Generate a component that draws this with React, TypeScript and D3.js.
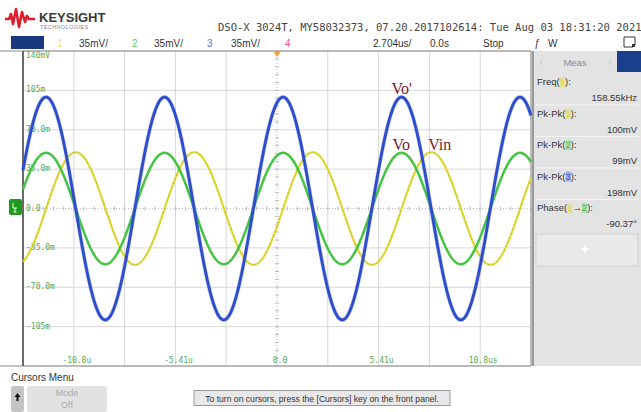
import React from 'react';
import * as d3 from 'd3';

const W = 641;
const H = 412;

// Channel readouts from the measurement panel
const channelIds = ['1', '2', '3'];
const channelColors = ['#e0da32', '#44c441', '#2e4dcb'];
const pkPkMv = [100, 99, 198];
const freqKHz = 158.55;
const phaseDeg = -90.37; // phase ch1 -> ch2
const crestTimeUs = 0.32; // a crest of ch2 / ch3

// Display settings
const timePerDivUs = 2.704;
const voltPerDivMv = 35;
const voltLabels = ['140mV', '105m', '70.0m', '35.0m', '0.0', '-35.0m', '-70.0m', '-105m'];
const timeLabelDivs = [-4, -2, 0, 2, 4];
const timeLabels = ['-10.8u', '-5.41u', '0.0', '5.41u', '10.8us'];

const measNames = ['Freq', 'Pk-Pk', 'Pk-Pk', 'Pk-Pk'];
const measNameEm = [2.389, 3.0, 3.0, 3.0]; // advance widths of "Name(" in em
const measChannels = [0, 0, 1, 2];
const measValues = [`${freqKHz.toFixed(2)}kHz`, `${pkPkMv[0]}mV`, `${pkPkMv[1]}mV`, `${pkPkMv[2]}mV`];

const traceLabels = ["Vo'", 'Vo', 'Vin'];

const UI = 'Liberation Sans, Arial, sans-serif';
const MONO = 'DejaVu Sans Mono, monospace';
const MEAS_FS = 9.5;

export default function App() {
  const plot = { l: 23, r: 531, t: 51, b: 366 };
  const x = d3.scaleLinear().domain([-5 * timePerDivUs, 5 * timePerDivUs]).range([plot.l, plot.r]);
  const y = d3.scaleLinear().domain([-4 * voltPerDivMv, 4 * voltPerDivMv]).range([plot.b, plot.t]);

  const periodUs = 1000 / freqKHz;
  const crestTimes = [crestTimeUs - (phaseDeg / 360) * periodUs, crestTimeUs, crestTimeUs];
  const times = d3.range(plot.l, plot.r + 0.01, 0.5).map((px) => x.invert(px));
  const traces = channelIds.map((_, i) =>
    times.map((t) => [t, (pkPkMv[i] / 2) * Math.cos((2 * Math.PI * (t - crestTimes[i])) / periodUs)] as [number, number])
  );
  const line = d3.line<[number, number]>().x((d) => x(d[0])).y((d) => y(d[1]));

  const xDivs = d3.range(-5, 6);
  const yDivs = d3.range(-4, 5);
  const cx = x(0);
  const cy = y(0);
  const minorX = d3.range(-25, 26).map((k) => x((k * timePerDivUs) / 5));
  const minorY = d3.range(-20, 21).map((k) => y((k * voltPerDivMv) / 5));

  const ch3Crest = crestTimes[2] + periodUs;
  const ch1Crest = crestTimes[0] + periodUs;

  // channel digit drawn as a small coloured chip inside the measurement name
  const chip = (key: string, ci: number, left: number, base: number) => {
    const w = MEAS_FS * 0.556;
    return (
      <g key={key}>
        <rect x={left} y={base - 8} width={w} height={10} fill={channelColors[ci]} opacity={0.35} />
        <text x={left + w / 2} y={base} textAnchor="middle" fill={channelColors[ci]}>{channelIds[ci]}</text>
      </g>
    );
  };

  return (
    <svg width={W} height={H} style={{ position: 'absolute', left: 0, top: 0, display: 'block', background: '#fff' }}>
      {/* Logo */}
      <path d="M5,19 L9,19 L11,14 L13,24 L16,9 L19,27 L22,12 L25,22 L27,16 L29,19 L35,19" fill="none" stroke="#e01e2a" strokeWidth={2.6} strokeLinejoin="round" />
      <text x={39} y={22} fontFamily={UI} fontWeight="bold" fontSize={13} fill="#3a3a3a">KEYSIGHT</text>
      <text x={40} y={29} fontFamily={UI} fontSize={5.5} fill="#888" letterSpacing={0.4}>TECHNOLOGIES</text>
      <text x={218} y={31} fontFamily={MONO} fontSize={10.5} fill="#444">DSO-X 3024T, MY58032373, 07.20.2017102614: Tue Aug 03 18:31:20 2021</text>

      {/* Channel bar */}
      <rect x={11} y={36} width={33} height={13} fill="#18397e" />
      <text x={57} y={47} fontFamily={UI} fontSize={10} fill="#e8e36a">1</text>
      <text x={79} y={47} fontFamily={UI} fontSize={10} fill="#333">{voltPerDivMv}mV/</text>
      <text x={132} y={47} fontFamily={UI} fontSize={10} fill="#58c858">2</text>
      <text x={154} y={47} fontFamily={UI} fontSize={10} fill="#333">{voltPerDivMv}mV/</text>
      <text x={207} y={47} fontFamily={UI} fontSize={10} fill="#5a74d8">3</text>
      <text x={231} y={47} fontFamily={UI} fontSize={10} fill="#333">{voltPerDivMv}mV/</text>
      <text x={285} y={47} fontFamily={UI} fontSize={10} fill="#e050a0">4</text>
      <text x={373} y={47} fontFamily={UI} fontSize={10} fill="#333">{timePerDivUs}us/</text>
      <text x={430} y={47} fontFamily={UI} fontSize={10} fill="#333">0.0s</text>
      <text x={483} y={47} fontFamily={UI} fontSize={10} fill="#333">Stop</text>
      <text x={534} y={47} fontFamily={UI} fontSize={10} fontStyle="italic" fill="#333">ƒ</text>
      <text x={548} y={47} fontFamily={UI} fontSize={10} fill="#333">W</text>
      <path d="M624,37 h11 v8 M624,37 v10 h9" fill="none" stroke="#333" strokeWidth={1} />
      <rect x={632} y={44} width={3} height={3} fill="#333" />

      {/* Grid */}
      <g stroke="#d8d8d8" strokeWidth={1}>
        {xDivs.map((k) => (k === 0 ? null : <line key={'gx' + k} x1={x(k * timePerDivUs)} x2={x(k * timePerDivUs)} y1={plot.t} y2={plot.b} />))}
        {yDivs.map((k) => (k === 0 ? null : <line key={'gy' + k} x1={plot.l} x2={plot.r} y1={y(k * voltPerDivMv)} y2={y(k * voltPerDivMv)} />))}
      </g>
      <g stroke="#bdbdbd" strokeWidth={1}>
        <line x1={plot.l} x2={plot.r} y1={cy} y2={cy} strokeDasharray="1 2" />
        <line x1={cx} x2={cx} y1={plot.t} y2={plot.b} strokeDasharray="1 2" />
        {minorX.map((px, i) => <line key={'mx' + i} x1={px} x2={px} y1={cy - 2} y2={cy + 2} />)}
        {minorY.map((py, i) => <line key={'my' + i} x1={cx - 2} x2={cx + 2} y1={py} y2={py} />)}
      </g>
      <line x1={0} x2={plot.r} y1={plot.t} y2={plot.t} stroke="#8a8a8a" strokeWidth={1} />
      <line x1={0} x2={plot.r} y1={plot.b} y2={plot.b} stroke="#8a8a8a" strokeWidth={1} />
      <line x1={plot.l} x2={plot.l} y1={plot.t} y2={plot.b} stroke="#6a6a6a" strokeWidth={2} />
      <line x1={plot.r} x2={plot.r} y1={plot.t} y2={plot.b} stroke="#8a8a8a" strokeWidth={1} />

      {/* Axis labels */}
      <g fontFamily={MONO} fontSize={8} fill="#55a855">
        {voltLabels.map((lab, i) => {
          const v = (4 - i) * voltPerDivMv;
          const yy = i === 0 ? plot.t + 7 : y(v) + 2;
          return <text key={lab} x={plot.l + 3} y={yy}>{lab}</text>;
        })}
        {timeLabels.map((lab, i) => (
          <text key={lab} x={x(timeLabelDivs[i] * timePerDivUs) + 3} y={plot.b - 3} textAnchor="middle">{lab}</text>
        ))}
      </g>

      {/* Traces */}
      <g fill="none" strokeLinejoin="round">
        <path d={line(traces[0]) || ''} stroke={channelColors[0]} strokeWidth={2.2} />
        <path d={line(traces[0]) || ''} stroke="#a8a240" strokeWidth={0.9} strokeDasharray="1.5 3" opacity={0.7} />
        <path d={line(traces[1]) || ''} stroke={channelColors[1]} strokeWidth={2.5} />
        <path d={line(traces[2]) || ''} stroke="#5570dc" strokeWidth={4.2} opacity={0.3} />
        <path d={line(traces[2]) || ''} stroke={channelColors[2]} strokeWidth={2.9} />
      </g>

      {/* Trigger and ground markers */}
      <path d={`M${cx - 4},${plot.t} L${cx + 4},${plot.t} L${cx},${plot.t + 6} Z`} fill="#f0a030" />
      <rect x={9} y={199} width={13} height={16} rx={2} fill="#1e9a1e" />
      <path d="M13,203 v5 h4 M15,208 v4 M13.5,212 h3" fill="none" stroke="#e6ffe6" strokeWidth={1} />

      {/* Trace annotations */}
      <g fontFamily="Liberation Serif, Times New Roman, serif" fontSize={16} fill="#7a1b33">
        <text x={x(ch3Crest) - 10} y={94}>{traceLabels[0]}</text>
        <text x={x(ch3Crest) - 9} y={150}>{traceLabels[1]}</text>
        <text x={x(ch1Crest) - 3} y={150}>{traceLabels[2]}</text>
      </g>

      {/* Measurement panel */}
      <rect x={533} y={plot.t} width={W - 533} height={plot.b - plot.t} fill="#e3e3e3" />
      <line x1={533} x2={533} y1={plot.t} y2={plot.b} stroke="#9a9a9a" strokeWidth={2} />
      <rect x={617} y={plot.t} width={24} height={21} fill="#1a3f8c" />
      <text x={575} y={66} fontFamily={UI} fontSize={9.5} fill="#8a8a8a" textAnchor="middle">Meas</text>
      <text x={540} y={66} fontFamily={UI} fontSize={8} fill="#bbb">⁝</text>
      <text x={609} y={66} fontFamily={UI} fontSize={8} fill="#bbb">⁝</text>
      <g fontFamily={UI} fontSize={MEAS_FS} fill="#333">
        {measNames.map((name, i) => {
          const top = 75 + i * 31.5;
          const ci = measChannels[i];
          const nameW = measNameEm[i] * MEAS_FS;
          const digitW = MEAS_FS * 0.556;
          return (
            <g key={'m' + i}>
              <text x={537} y={top + 10}>{name}(</text>
              {chip('c' + i, ci, 537 + nameW, top + 10)}
              <text x={537 + nameW + digitW} y={top + 10}>):</text>
              <text x={637} y={top + 26} textAnchor="end">{measValues[i]}</text>
              <line x1={536} x2={639} y1={top + 30} y2={top + 30} stroke="#f4f4f4" strokeWidth={1} />
            </g>
          );
        })}
        <text x={537} y={211}>Phase(</text>
        {chip('p1', 0, 537 + 3.168 * MEAS_FS, 211)}
        <text x={537 + 3.168 * MEAS_FS + 0.556 * MEAS_FS} y={211}>→</text>
        {chip('p2', 1, 537 + 3.168 * MEAS_FS + 1.556 * MEAS_FS, 211)}
        <text x={537 + 3.168 * MEAS_FS + 2.112 * MEAS_FS} y={211}>):</text>
        <text x={637} y={227} textAnchor="end">{phaseDeg.toFixed(2)}°</text>
      </g>
      <rect x={536} y={234} width={102} height={32} fill="#e9e9e9" stroke="#d2d2d2" />
      <path d="M581,249 h8 M585,245 v8" stroke="#fff" strokeWidth={1.8} />

      {/* Cursor menu */}
      <text x={11} y={381} fontFamily={UI} fontSize={10} fill="#333">Cursors Menu</text>
      <rect x={11} y={386} width={13} height={26} rx={2} fill="#c4c4c4" />
      <path d="M17.5,393 l-3,4 h2 v4 h2 v-4 h2 Z" fill="#111" />
      <rect x={27} y={386} width={80} height={26} rx={3} fill="#e2e2e2" />
      <text x={67} y={396} fontFamily={UI} fontSize={9} fill="#aaa" textAnchor="middle">Mode</text>
      <text x={67} y={408} fontFamily={UI} fontSize={9} fill="#aaa" textAnchor="middle">Off</text>
      <rect x={194} y={390.5} width={256} height={15} fill="#e8e8e8" stroke="#9a9a9a" />
      <text x={322} y={401.5} fontFamily={UI} fontSize={8.6} fill="#333" textAnchor="middle">To turn on cursors, press the [Cursors] key on the front panel.</text>
    </svg>
  );
}
